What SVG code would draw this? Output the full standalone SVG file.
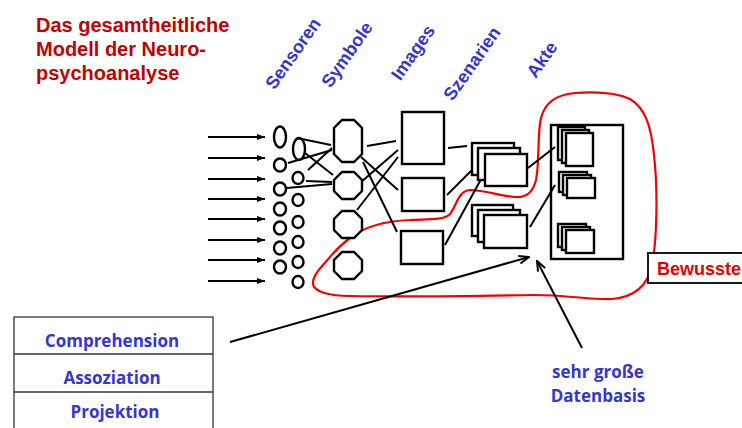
<svg xmlns="http://www.w3.org/2000/svg" width="742" height="428" viewBox="0 0 742 428">
<style>
.ttl{font-family:"Liberation Sans",Arial,sans-serif;font-weight:bold;font-size:20px;fill:#c00000}
.lab{font-family:"Liberation Sans",Arial,sans-serif;font-weight:bold;font-size:18px;fill:#3535cc}
.blu{font-family:"Open Sans","Noto Sans",sans-serif;font-weight:bold;font-size:17px;fill:#3535d0}
.bw{font-family:"Liberation Sans",Arial,sans-serif;font-weight:bold;font-size:18px;fill:#e00000}
.sh{fill:#fff;stroke:#000;stroke-width:2.4}
.ln{stroke:#000;stroke-width:2;fill:none}
.thin{stroke:#000;stroke-width:1.9;fill:none}
</style>
<defs>
<marker id="tri" viewBox="0 0 8 6" refX="8" refY="3" markerWidth="8" markerHeight="6" markerUnits="userSpaceOnUse" orient="auto"><path d="M0,0 L8,3 L0,6 Z" fill="#000"/></marker>
<marker id="vee" viewBox="0 0 12 10" refX="11" refY="5" markerWidth="12" markerHeight="10" markerUnits="userSpaceOnUse" orient="auto"><path d="M1,1 L11,5 L1,9" fill="none" stroke="#000" stroke-width="2"/></marker>
</defs>
<rect width="742" height="428" fill="#fff"/>

<g id="title">
<text class="ttl" x="36" y="32">Das gesamtheitliche</text>
<text class="ttl" x="36" y="56">Modell der Neuro-</text>
<text class="ttl" x="36" y="80">psychoanalyse</text>
</g>

<g id="column-labels">
<text class="lab" text-anchor="middle" x="298" y="57" transform="rotate(-55 298 57)">Sensoren</text>
<text class="lab" text-anchor="middle" x="352" y="58" transform="rotate(-55 352 58)">Symbole</text>
<text class="lab" text-anchor="middle" x="418" y="56" transform="rotate(-55 418 56)">Images</text>
<text class="lab" text-anchor="middle" x="477" y="67" transform="rotate(-55 477 67)">Szenarien</text>
<text class="lab" text-anchor="middle" x="547" y="63" transform="rotate(-55 547 63)">Akte</text>
</g>

<g id="red-boundary">
<path d="M330,257 C322,266 312,276 313,284 C314,292 330,296 350,296 C400,297 480,296 533,295 C570,295 590,300 612,299 C635,297 648,285 652,265 C657,240 658,190 654,155 C651,125 645,108 630,99 C615,92 590,92 575,93 C555,95 545,103 541,118 C537,135 540,160 536,180 C533,192 527,198 515,197 C500,196 485,190 470,190 C458,191 457,205 450,214 C443,221 425,219 410,220 C385,221 365,226 350,238 C342,244 336,250 330,257 Z" fill="none" stroke="#f00000" stroke-width="2.2"/>
</g>

<g id="connectors">
<line class="thin" x1="208" y1="137" x2="265" y2="137" marker-end="url(#tri)"/>
<line class="thin" x1="208" y1="158" x2="265" y2="158" marker-end="url(#tri)"/>
<line class="thin" x1="208" y1="179" x2="265" y2="179" marker-end="url(#tri)"/>
<line class="thin" x1="208" y1="199" x2="265" y2="199" marker-end="url(#tri)"/>
<line class="thin" x1="208" y1="219" x2="265" y2="219" marker-end="url(#tri)"/>
<line class="thin" x1="208" y1="240" x2="265" y2="240" marker-end="url(#tri)"/>
<line class="thin" x1="208" y1="260" x2="265" y2="260" marker-end="url(#tri)"/>
<line class="thin" x1="208" y1="281" x2="265" y2="281" marker-end="url(#tri)"/>
<!-- sensors to symbols -->
<line class="ln" x1="297" y1="138" x2="331" y2="145"/>
<line class="ln" x1="288" y1="163" x2="332" y2="150"/>
<line class="ln" x1="305" y1="153" x2="333" y2="175"/>
<line class="ln" x1="308" y1="170" x2="332" y2="148"/>
<line class="ln" x1="306" y1="181" x2="332" y2="182"/>
<line class="ln" x1="287" y1="188" x2="332" y2="184"/>
<!-- symbols to images -->
<line class="ln" x1="367" y1="146" x2="396" y2="141"/>
<line class="ln" x1="361" y1="157" x2="398" y2="190"/>
<line class="ln" x1="363" y1="162" x2="397" y2="232"/>
<line class="ln" x1="360" y1="183" x2="398" y2="150"/>
<line class="ln" x1="357" y1="210" x2="398" y2="157"/>
<!-- images to scenarios -->
<line class="ln" x1="448" y1="148" x2="467" y2="146"/>
<line class="ln" x1="447" y1="195" x2="477" y2="165"/>
<line class="ln" x1="445" y1="245" x2="485" y2="172"/>
<!-- scenarios to acts -->
<line class="ln" x1="528" y1="168" x2="555" y2="147"/>
<line class="ln" x1="530" y1="227" x2="555" y2="185"/>
<!-- annotation arrows -->
<line class="ln" x1="230" y1="342" x2="529" y2="257" marker-end="url(#vee)"/>
<line class="ln" x1="582" y1="348" x2="537" y2="261" marker-end="url(#vee)"/>
</g>

<g id="sensors">
<ellipse class="sh" cx="280" cy="137" rx="6" ry="10.5"/>
<ellipse class="sh" cx="280" cy="165" rx="6" ry="6.5"/>
<ellipse class="sh" cx="280" cy="189" rx="6" ry="6.5"/>
<ellipse class="sh" cx="280" cy="209" rx="6" ry="6.5"/>
<ellipse class="sh" cx="280" cy="228" rx="6" ry="6.5"/>
<ellipse class="sh" cx="280" cy="248" rx="6" ry="6.5"/>
<ellipse class="sh" cx="280" cy="267" rx="6" ry="6.5"/>
<ellipse class="sh" cx="299" cy="149" rx="6" ry="11" style="fill:none"/>
<ellipse class="sh" cx="298" cy="178" rx="5.5" ry="6"/>
<ellipse class="sh" cx="298" cy="200" rx="5.5" ry="6"/>
<ellipse class="sh" cx="298" cy="222" rx="5.5" ry="6"/>
<ellipse class="sh" cx="298" cy="242" rx="5.5" ry="6"/>
<ellipse class="sh" cx="298" cy="262" rx="5.5" ry="6"/>
<ellipse class="sh" cx="298" cy="282" rx="5.5" ry="6"/>
</g>

<g id="symbols">
<polygon class="sh" points="342,120 354,120 362,128 362,154 354,162 342,162 334,154 334,128"/>
<polygon class="sh" points="342,172 354,172 362,180 362,191 354,199 342,199 334,191 334,180"/>
<polygon class="sh" points="342,211 354,211 362,219 362,230 354,238 342,238 334,230 334,219"/>
<polygon class="sh" points="342,252 354,252 362,260 362,271 354,279 342,279 334,271 334,260"/>
</g>

<g id="images">
<rect class="sh" x="402" y="112" width="42" height="52"/>
<rect class="sh" x="402" y="178" width="42" height="33"/>
<rect class="sh" x="401" y="231" width="42" height="33"/>
</g>

<g id="scenarios">
<rect class="sh" x="472" y="143" width="42" height="32"/>
<rect class="sh" x="478" y="148" width="42" height="32"/>
<rect class="sh" x="485" y="154" width="42" height="32"/>
<rect class="sh" x="472" y="205" width="41" height="31"/>
<rect class="sh" x="478" y="210" width="42" height="32"/>
<rect class="sh" x="484" y="215" width="43" height="33"/>
</g>

<g id="acts">
<rect class="sh" x="551" y="125" width="72" height="134" style="fill:none"/>
<rect class="sh" x="558" y="127" width="27" height="33"/>
<rect class="sh" x="562" y="130" width="27" height="33"/>
<rect class="sh" x="566" y="133" width="27" height="33"/>
<rect class="sh" x="559" y="172" width="28" height="20"/>
<rect class="sh" x="563" y="175" width="28" height="20"/>
<rect class="sh" x="567" y="178" width="28" height="20"/>
<rect class="sh" x="558" y="224" width="28" height="23"/>
<rect class="sh" x="562" y="227" width="28" height="23"/>
<rect class="sh" x="566" y="230" width="28" height="23"/>
</g>

<g id="bewusste">
<rect x="648" y="253" width="100" height="30" fill="#fff" stroke="#000" stroke-width="1.8"/>
<text class="bw" x="657" y="275">Bewusste</text>
</g>

<g id="processes">
<rect x="14" y="317" width="199" height="120" fill="#fff" stroke="#333" stroke-width="1.3"/>
<line x1="14" y1="354" x2="213" y2="354" stroke="#333" stroke-width="1.3"/>
<line x1="14" y1="392" x2="213" y2="392" stroke="#333" stroke-width="1.3"/>
<text class="blu" text-anchor="middle" x="112" y="347">Comprehension</text>
<text class="blu" text-anchor="middle" x="112" y="384">Assoziation</text>
<text class="blu" text-anchor="middle" x="115" y="418">Projektion</text>
</g>

<g id="database">
<text class="blu" text-anchor="middle" x="598" y="378">sehr große</text>
<text class="blu" text-anchor="middle" x="598" y="402">Datenbasis</text>
</g>
</svg>
